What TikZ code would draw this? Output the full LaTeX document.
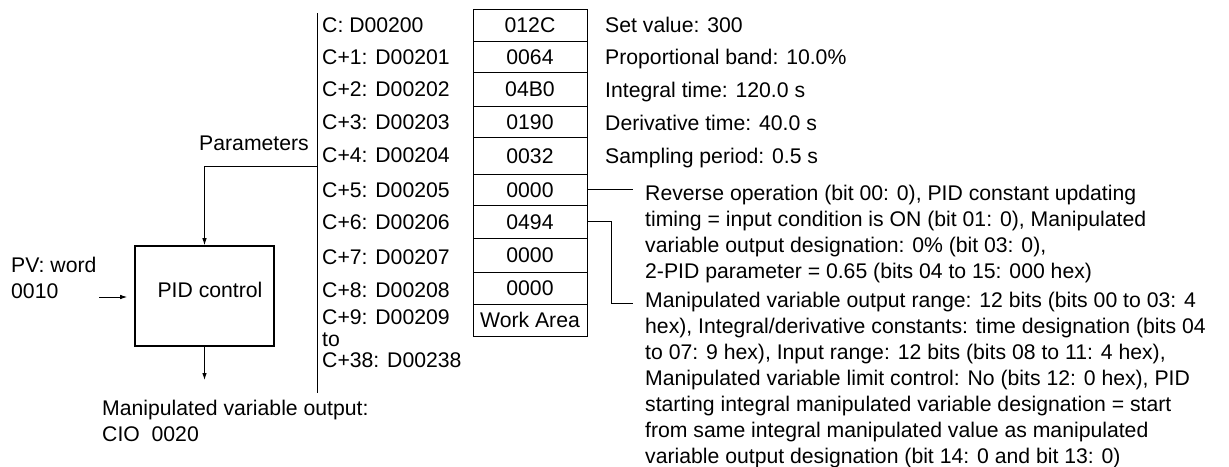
\documentclass[tikz,border=0pt]{standalone}
\usepackage{fontspec}
\setmainfont{Liberation Sans}
\usetikzlibrary{arrows.meta}
\newcommand\fs{\fontsize{21.2pt}{26pt}\selectfont}
\tikzset{
  txt/.style={inner sep=0pt, font=\fs},
  lbl/.style={txt, anchor=base west},
  cell/.style={draw, line width=1pt, minimum width=114pt, inner sep=0pt, font=\fs, text height=15.2pt, text depth=0pt},
  para/.style={txt, anchor=north west, align=left},
  conn/.style={line width=0.9pt},
  arr/.style={line width=0.9pt, -{Latex[length=7pt,width=4.5pt]}},
}
\begin{document}
\begin{tikzpicture}[x=1pt,y=-1pt]
\useasboundingbox (0,0) rectangle (1229,466);
% vertical separator
\coordinate (bt) at (317,13);
\coordinate (bb) at (317,393);
\draw[conn] (bt) -- (bb);
% addresses
\node[lbl] (a0) at (322,32.5) {C: D00200};
\node[lbl] (a1) at (322,64.5) {C+1: D00201};
\node[lbl] (a2) at (322,96.5) {C+2: D00202};
\node[lbl] (a3) at (322,129.5) {C+3: D00203};
\node[lbl] (a4) at (322,162.5) {C+4: D00204};
\node[lbl] (a5) at (322,197.5) {C+5: D00205};
\node[lbl] (a6) at (322,229.5) {C+6: D00206};
\node[lbl] (a7) at (322,264.5) {C+7: D00207};
\node[lbl] (a8) at (322,297.5) {C+8: D00208};
\node[lbl] (a9) at (322,324.5) {C+9: D00209};
\node[lbl] (ato) at (322,346) {to};
\node[lbl] (a38) at (322,367.5) {C+38: D00238};
% cells
\node[cell, minimum height=32pt] (v0) at (530,25) {012C};
\node[cell, minimum height=31pt] (v1) at (530,56.5) {0064};
\node[cell, minimum height=34pt] (v2) at (530,89) {04B0};
\node[cell, minimum height=31pt] (v3) at (530,121.5) {0190};
\node[cell, minimum height=37pt] (v4) at (530,155.5) {0032};
\node[cell, minimum height=31pt] (v5) at (530,189.5) {0000};
\node[cell, minimum height=33pt] (v6) at (530,221.5) {0494};
\node[cell, minimum height=34pt] (v7) at (530,255) {0000};
\node[cell, minimum height=32pt] (v8) at (530,288) {0000};
\node[cell, minimum height=32pt] (v9) at (530,320) {Work Area};
% descriptions
\node[lbl] (d0) at (605,32.5) {Set value: 300};
\node[lbl] (d1) at (605,64.5) {Proportional band: 10.0\%};
\node[lbl] (d2) at (605,97.5) {Integral time: 120.0 s};
\node[lbl] (d3) at (605,130.5) {Derivative time: 40.0 s};
\node[lbl] (d4) at (605,163.5) {Sampling period: 0.5 s};
\coordinate (rc) at (633,189.5);
\draw[conn] (v5.east) -- (rc);
\node[para] (d5) at (645,185) {Reverse operation (bit 00: 0), PID constant updating\\
timing = input condition is ON (bit 01: 0), Manipulated\\
variable output designation: 0\% (bit 03: 0),\\
2-PID parameter = 0.65 (bits 04 to 15: 000 hex)};
\coordinate (c6a) at (611,221.5);
\coordinate (mc) at (633,303);
\draw[conn] (v6.east) -- (c6a) |- (mc);
\node[para] (d6) at (645,292) {Manipulated variable output range: 12 bits (bits 00 to 03: 4\\
hex), Integral/derivative constants: time designation (bits 04\\
to 07: 9 hex), Input range: 12 bits (bits 08 to 11: 4 hex),\\
Manipulated variable limit control: No (bits 12: 0 hex), PID\\
starting integral manipulated variable designation = start\\
from same integral manipulated value as manipulated\\
variable output designation (bit 14: 0 and bit 13: 0)};
% PID
\node[draw, line width=1.6pt, minimum width=139pt, minimum height=100pt, inner sep=0pt] (pid) at (204.5,296) {};
\node[txt] (pidl) at (210,290) {PID control};
\node[lbl, anchor=base east] (par) at (309,150.5) {Parameters};
\coordinate (pj) at (317,166);
\draw[arr] (pj) -| (pid.north);
\node[para] (pv) at (11,257) {PV: word\\0010};
\coordinate (pvs) at (99,297);
\draw[arr, shorten >=7pt] (pvs) -- (pvs -| pid.west);
\coordinate (out) at (pid.south |- 0,380);
\draw[arr] (pid.south) -- (out);
\node[para] (mv) at (102,400) {Manipulated variable output:\\CIO\ \ 0020};
\end{tikzpicture}
\end{document}
